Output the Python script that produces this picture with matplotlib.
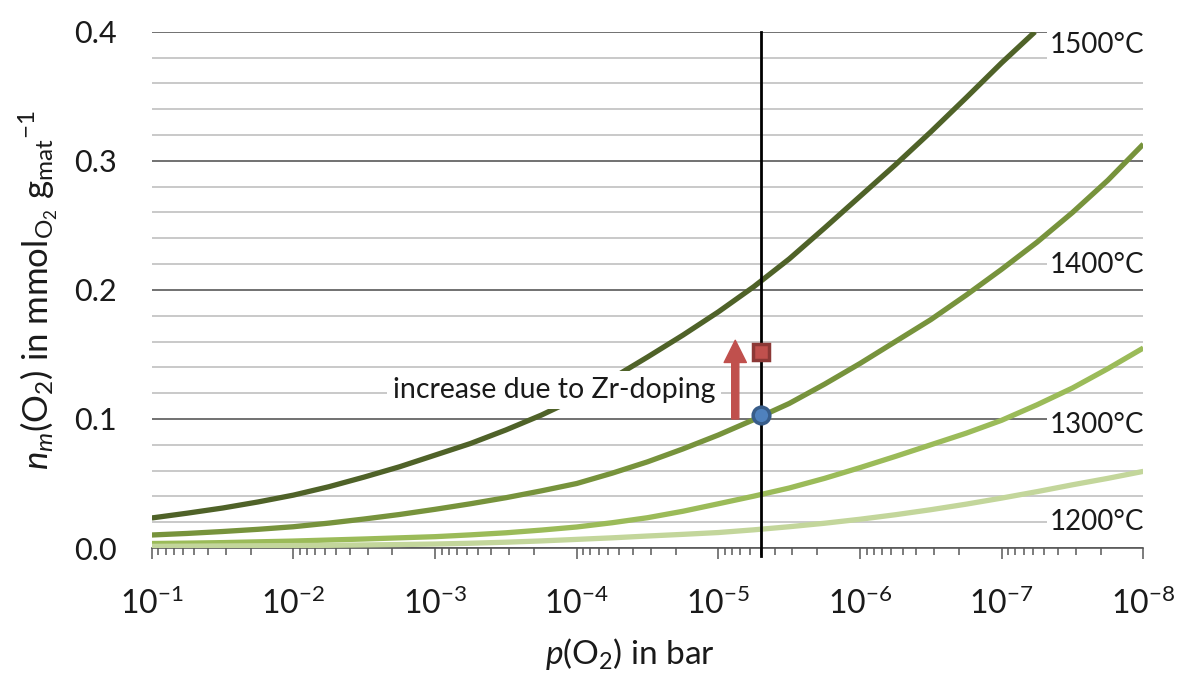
import numpy as np
import matplotlib
matplotlib.use('Agg')
import matplotlib.pyplot as plt

plt.rcParams['font.family'] = ['Lato', 'DejaVu Sans']
plt.rcParams['mathtext.fontset'] = 'custom'
plt.rcParams['mathtext.rm'] = 'Lato'
plt.rcParams['mathtext.it'] = 'Lato:italic'

# decades of p(O2): p = 10^-d, read every quarter decade
decades = [1, 1.25, 1.5, 1.75, 2, 2.25, 2.5, 2.75, 3, 3.25, 3.5, 3.75, 4, 4.25, 4.5,
           4.75, 5, 5.25, 5.5, 5.75, 6, 6.25, 6.5, 6.75, 7, 7.25, 7.5, 7.75, 8]
decades_1500 = decades[:25] + [7.235]

n_1500 = [0.0233, 0.027, 0.031, 0.0357, 0.041, 0.0475, 0.055, 0.063, 0.072, 0.081,
          0.0915, 0.103, 0.116, 0.1315, 0.148, 0.165, 0.183, 0.2025, 0.224, 0.248,
          0.2725, 0.297, 0.3225, 0.349, 0.376, 0.400]
n_1400 = [0.0101, 0.0113, 0.0128, 0.0145, 0.0165, 0.0193, 0.0225, 0.026, 0.0300, 0.0343,
          0.0390, 0.0443, 0.0500, 0.0580, 0.0668, 0.0768, 0.0876, 0.0995, 0.112, 0.127,
          0.143, 0.160, 0.177, 0.196, 0.216, 0.237, 0.260, 0.285, 0.313]
n_1300 = [0.0035, 0.0038, 0.0042, 0.0048, 0.0054, 0.0062, 0.0070, 0.0079, 0.0088, 0.0102,
          0.0118, 0.0139, 0.0163, 0.0196, 0.0235, 0.0285, 0.0343, 0.0402, 0.0465, 0.054,
          0.0623, 0.071, 0.080, 0.089, 0.099, 0.111, 0.124, 0.139, 0.155]
n_1200 = [0.0013, 0.00145, 0.0016, 0.00175, 0.0019, 0.0021, 0.0024, 0.0027, 0.0031, 0.0037,
          0.0045, 0.0055, 0.0067, 0.0079, 0.0093, 0.0106, 0.0120, 0.0141, 0.0165, 0.0192,
          0.0223, 0.0258, 0.0297, 0.034, 0.0387, 0.0437, 0.049, 0.054, 0.0594]

temp_labels = ['1500°C', '1400°C', '1300°C', '1200°C']
label_y = [0.975, 0.548, 0.238, 0.05]
colors = ['#4F6228', '#77933C', '#9BBB59', '#C3D69B']

p_mark = 5e-6
n_undoped = 0.103
n_doped = 0.152
p_arrow = 7.6e-6
arrow_from, arrow_to = 0.100, 0.161

txt = '#1a1a1a'

fig = plt.figure(figsize=(11.86, 6.73), dpi=100)
ax = fig.add_axes([0.128, 0.1857, 0.836, 0.767])

series = [(decades_1500, n_1500), (decades, n_1400), (decades, n_1300), (decades, n_1200)]
for (d, n), c in zip(series, colors):
    p = 10.0 ** (-np.array(d))
    ax.plot(p, n, color=c, lw=3.8, solid_capstyle='butt', solid_joinstyle='round', zorder=3)

ax.set_xscale('log')
ax.set_xlim(1e-1, 1e-8)
ax.set_ylim(0, 0.4)

ax.set_yticks([0.0, 0.1, 0.2, 0.3, 0.4])
ax.set_yticklabels(['0.0', '0.1', '0.2', '0.3', '0.4'])
ax.set_yticks(np.arange(0, 0.41, 0.02), minor=True)
ax.grid(True, which='major', axis='y', color='#595959', lw=1.2, zorder=1)
ax.grid(True, which='minor', axis='y', color='#C0C0C0', lw=1.2, zorder=1)
ax.set_axisbelow(True)

xt = [10.0 ** -k for k in range(1, 9)]
ax.set_xticks(xt)
ax.set_xticklabels([r'$10^{-%d}$' % k for k in range(1, 9)])

for s in ['top', 'right', 'left']:
    ax.spines[s].set_visible(False)
ax.spines['bottom'].set_color('#595959')
ax.spines['bottom'].set_linewidth(1.2)

ax.tick_params(axis='y', which='both', length=0, pad=25, labelsize=22, labelcolor=txt)
ax.tick_params(axis='x', which='major', length=8, width=1.1, color='#595959', pad=20,
               labelsize=23, labelcolor=txt)
ax.tick_params(axis='x', which='minor', length=5, width=1.1, color='#595959')

# vertical marker line
ax.plot([p_mark, p_mark], [-0.006, 0.4], color='black', lw=2, zorder=4, clip_on=False)

# Zr-doping arrow
ax.annotate('', xy=(p_arrow, arrow_to), xytext=(p_arrow, arrow_from),
            arrowprops=dict(arrowstyle='simple,head_length=1.0,head_width=1.0,tail_width=0.32',
                            color='#C0504D', mutation_scale=16, shrinkA=0, shrinkB=0),
            zorder=5)
ax.text(10 ** -3.84, 0.1225, 'increase due to Zr-doping', fontsize=20.5, ha='center', va='center',
        color=txt, zorder=4,
        bbox=dict(facecolor='white', edgecolor='none', pad=4))

ax.plot(p_mark, n_undoped, marker='o', ms=12, mfc='#4F81BD', mec='#385D8A', mew=2.5, zorder=6)
ax.plot(p_mark, n_doped, marker='s', ms=12, mfc='#C0504D', mec='#8C3836', mew=2.5, zorder=6)

for lab, yy in zip(temp_labels, label_y):
    ax.text(0.906, yy, lab, transform=ax.transAxes, fontsize=20, ha='left', va='center',
            color=txt, zorder=5,
            bbox=dict(facecolor='white', edgecolor='none', pad=2))

ax.set_xlabel(r'$p$(O$_2$) in bar', fontsize=24, color=txt)
ax.xaxis.set_label_coords(0.482, -0.17)
ax.set_ylabel(r'$n_m$(O$_2$) in mmol$_{\mathregular{O_2}}$ g$_{\mathregular{mat}}$$^{\mathregular{-1}}$',
              fontsize=25, color=txt, labelpad=10)

fig.savefig('out.png', dpi=100)
